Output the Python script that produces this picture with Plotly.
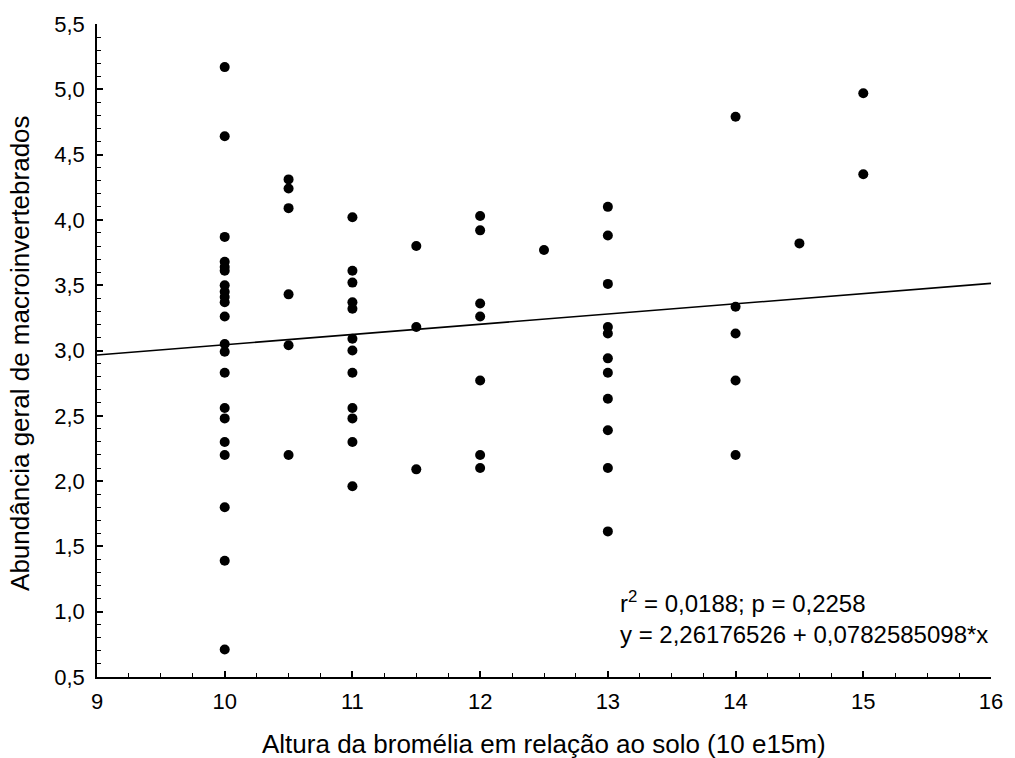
import plotly.graph_objects as go

# Data
x_vals = (
    [10.0] * 21
    + [10.5] * 6
    + [11.0] * 12
    + [11.5] * 3
    + [12.0] * 7
    + [12.5] * 1
    + [13.0] * 11
    + [14.0] * 5
    + [14.5] * 1
    + [15.0] * 2
)
y_vals = (
    [5.17, 4.64, 3.87, 3.68, 3.64, 3.61, 3.50, 3.45, 3.41, 3.37, 3.26, 3.05, 2.99,
     2.83, 2.56, 2.48, 2.30, 2.20, 1.80, 1.39, 0.71]
    + [4.31, 4.24, 4.09, 3.43, 3.04, 2.20]
    + [4.02, 3.61, 3.52, 3.37, 3.32, 3.09, 3.00, 2.83, 2.56, 2.48, 2.30, 1.96]
    + [3.80, 3.18, 2.09]
    + [4.03, 3.92, 3.36, 3.26, 2.77, 2.20, 2.10]
    + [3.77]
    + [4.10, 3.88, 3.51, 3.18, 3.13, 2.94, 2.83, 2.63, 2.39, 2.10, 1.615]
    + [4.79, 3.335, 3.13, 2.77, 2.20]
    + [3.82]
    + [4.97, 4.35]
)

intercept = 2.26176526
slope = 0.0782585098
line_x = [9.0, 16.0]
line_y = [intercept + slope * v for v in line_x]

x_ticks = [9, 10, 11, 12, 13, 14, 15, 16]
x_ticktext = ["9", "10", "11", "12", "13", "14", "15", "16"]
y_ticks = [0.5, 1.0, 1.5, 2.0, 2.5, 3.0, 3.5, 4.0, 4.5, 5.0, 5.5]
y_ticktext = ["0,5", "1,0", "1,5", "2,0", "2,5", "3,0", "3,5", "4,0", "4,5", "5,0", "5,5"]

x_title = "Altura da bromélia em relação ao solo (10 e15m)"
y_title = "Abundância geral de macroinvertebrados"
stats_text = "r<sup>2</sup> = 0,0188; p = 0,2258<br>y = 2,26176526 + 0,0782585098*x"

FONT = "Liberation Sans, Arial, sans-serif"

fig = go.Figure()
fig.add_trace(go.Scatter(
    x=line_x, y=line_y, mode="lines",
    line=dict(color="black", width=1.6), hoverinfo="skip", showlegend=False,
))
fig.add_trace(go.Scatter(
    x=x_vals, y=y_vals, mode="markers",
    marker=dict(color="black", size=10, line=dict(width=0)), showlegend=False,
))

fig.update_xaxes(
    range=[9, 16], tickvals=x_ticks, ticktext=x_ticktext,
    showline=True, linecolor="black", linewidth=1.5, mirror=False,
    ticks="inside", ticklen=6, tickwidth=1.5, tickcolor="black",
    minor=dict(ticks="inside", ticklen=4, tickwidth=1.2, tickcolor="black", dtick=0.25, showgrid=False),
    showgrid=False, zeroline=False, ticklabelstandoff=4,
    tickfont=dict(family=FONT, size=22, color="black"),
)
fig.update_yaxes(
    range=[0.5, 5.5], tickvals=y_ticks, ticktext=y_ticktext,
    showline=True, linecolor="black", linewidth=1.5, mirror=False,
    ticks="inside", ticklen=6, tickwidth=1.5, tickcolor="black",
    minor=dict(ticks="inside", ticklen=4, tickwidth=1.2, tickcolor="black", dtick=0.1, showgrid=False),
    showgrid=False, zeroline=False, ticklabelstandoff=6,
    tickfont=dict(family=FONT, size=22, color="black"),
)

# Axis titles
fig.add_annotation(
    xref="paper", yref="paper", x=0.5, y=-0.103, xanchor="center", yanchor="middle",
    text=x_title, showarrow=False, font=dict(family=FONT, size=26, color="black"),
)
fig.add_annotation(
    xref="paper", yref="paper", x=-0.0856, y=0.497, xanchor="center", yanchor="middle",
    text=y_title, showarrow=False, textangle=-90,
    font=dict(family=FONT, size=26, color="black"),
)

fig.add_annotation(
    xref="paper", yref="paper", x=0.583, y=0.042, xanchor="left", yanchor="bottom",
    text=stats_text, showarrow=False, align="left",
    font=dict(family=FONT, size=24, color="black"),
)

fig.update_layout(
    width=1015, height=758,
    margin=dict(l=97, r=18, t=18, b=81),
    paper_bgcolor="white", plot_bgcolor="white",
    font=dict(family=FONT, color="black"),
)

fig.write_html("out.html")
